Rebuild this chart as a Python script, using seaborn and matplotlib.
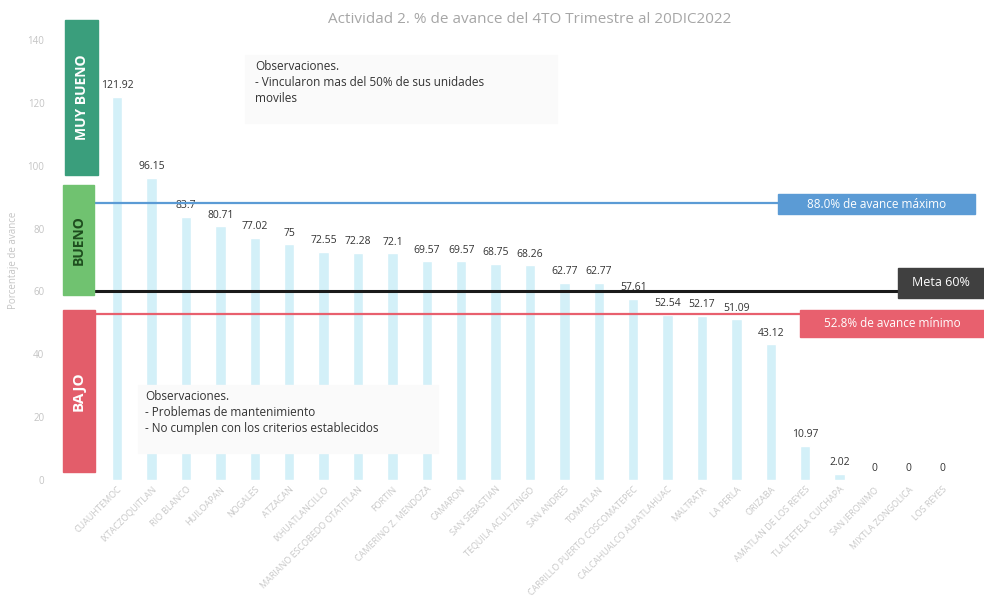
import matplotlib
matplotlib.use("Agg")
import matplotlib.pyplot as plt
from matplotlib.patches import Rectangle
import seaborn as sns
import pandas as pd

# datos (los nombres del eje x no se leen en la imagen original)
municipios = [
    "CUAUHTEMOC", "IXTACZOQUITLAN", "RIO BLANCO", "HUILOAPAN", "NOGALES",
    "ATZACAN", "IXHUATLANCILLO", "MARIANO ESCOBEDO OTATITLAN", "FORTIN",
    "CAMERINO Z. MENDOZA", "CAMARON", "SAN SEBASTIAN", "TEQUILA ACULTZINGO",
    "SAN ANDRES", "TOMATLAN", "CARRILLO PUERTO COSCOMATEPEC", "CALCAHUALCO ALPATLAHUAC",
    "MALTRATA", "LA PERLA", "ORIZABA", "AMATLAN DE LOS REYES",
    "TLALTETELA CUICHAPA", "SAN JERONIMO", "MIXTLA ZONGOLICA", "LOS REYES",
]
avance = [121.92, 96.15, 83.7, 80.71, 77.02, 75, 72.55, 72.28, 72.1, 69.57,
          69.57, 68.75, 68.26, 62.77, 62.77, 57.61, 52.54, 52.17, 51.09, 43.12,
          10.97, 2.02, 0, 0, 0]

avance_maximo = 88.0
meta = 60
avance_minimo = 52.8

df = pd.DataFrame({"municipio": municipios, "avance": avance})

sns.set_theme(style="white")
plt.rcParams["font.family"] = ["Open Sans", "DejaVu Sans"]

W, H = 984, 613
fig = plt.figure(figsize=(W / 100, H / 100), dpi=100)
ax = fig.add_axes([100 / W, 1 - 480 / H, 860 / W, 440 / H])

sns.barplot(data=df, x="municipio", y="avance", color="#d3f0f8", width=0.3,
            saturation=1, ax=ax)
ax.bar_label(ax.containers[0], labels=[f"{v:g}" for v in avance],
             fontsize=7.5, color="#333333", padding=4)

ax.set_ylim(0, 140)
ax.set_xlim(-0.5, len(municipios) - 0.5)
ax.set_yticks(range(0, 141, 20))
ax.tick_params(axis="y", labelsize=7, colors="#c4c4c4", length=0, pad=40)
ax.tick_params(axis="x", labelsize=6.5, colors="#c8c8c8", length=0)
plt.setp(ax.get_xticklabels(), rotation=45, ha="right", rotation_mode="anchor")
ax.set_xlabel("")
ax.set_ylabel("Porcentaje de avance", fontsize=7, color="#c4c4c4", labelpad=6)
sns.despine(ax=ax, left=True, bottom=True)

ax.set_title("Actividad 2. % de avance del 4TO Trimestre al 20DIC2022",
             fontsize=11, color="#a6a6a6", pad=12)

# líneas de referencia
ax.plot([-0.65, 19.2], [avance_maximo] * 2, color="#5b9bd5", lw=1.6, clip_on=False, zorder=3)
ax.plot([-0.65, 22.8], [meta] * 2, color="#1a1a1a", lw=2.2, clip_on=False, zorder=3)
ax.plot([-0.65, 19.9], [avance_minimo] * 2, color="#e8606e", lw=1.6, clip_on=False, zorder=3)


def caja(x, y, w, h, color, texto=None, tcolor="white", size=9, rot=0, weight="normal"):
    fig.add_artist(Rectangle((x / W, 1 - (y + h) / H), w / W, h / H,
                             transform=fig.transFigure, color=color, zorder=5))
    if texto:
        fig.text((x + w / 2) / W, 1 - (y + h / 2) / H, texto, color=tcolor,
                 fontsize=size, rotation=rot, ha="center", va="center",
                 fontweight=weight, zorder=6)


caja(65, 20, 33, 155, "#3a9e7c", "MUY BUENO", size=10, rot=90, weight="bold")
caja(63, 185, 31, 110, "#70c270", "BUENO", tcolor="#1e4d1e", size=10, rot=90, weight="bold")
caja(63, 310, 32, 162, "#e35d6a", "BAJO", size=11, rot=90, weight="bold")

caja(778, 194, 197, 20, "#5b9bd5", "88.0% de avance máximo", size=8.5)
caja(898, 268, 86, 30, "#404040", "Meta 60%", size=9)
caja(800, 310, 184, 27, "#e8606e", "52.8% de avance mínimo", size=8.5)

# observaciones
caja(245, 55, 312, 68, "#fafafa")
fig.text(255 / W, 1 - 60 / H,
         "Observaciones.\n- Vincularon mas del 50% de sus unidades\nmoviles",
         fontsize=8.5, color="#333333", va="top", ha="left", linespacing=1.3, zorder=6)
caja(138, 385, 300, 68, "#fafafa")
fig.text(145 / W, 1 - 390 / H,
         "Observaciones.\n- Problemas de mantenimiento\n- No cumplen con los criterios establecidos",
         fontsize=8.5, color="#333333", va="top", ha="left", linespacing=1.3, zorder=6)

fig.savefig("out.png", dpi=100)
